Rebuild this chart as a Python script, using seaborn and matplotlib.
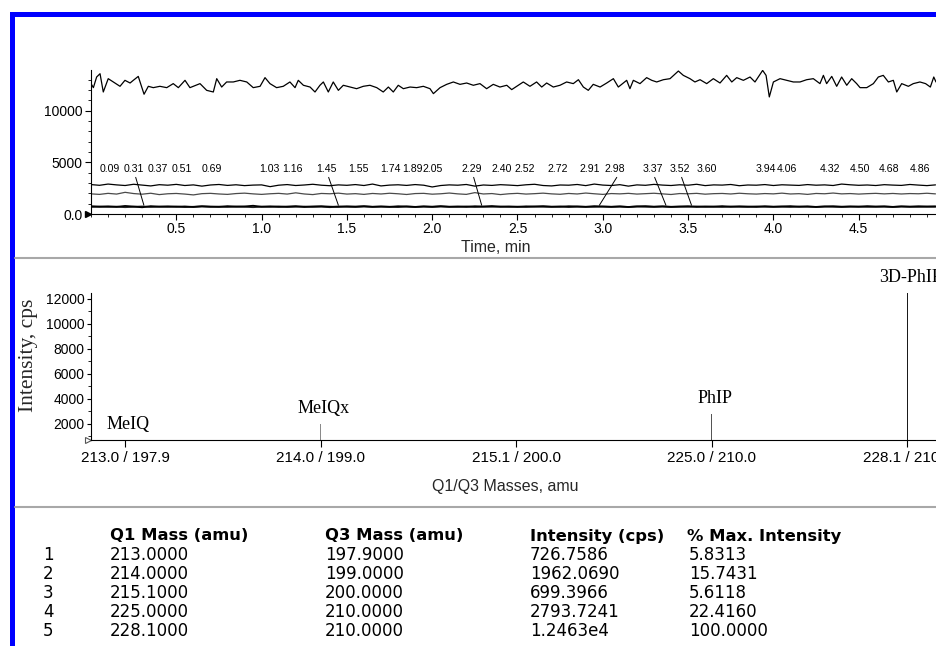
import math
import matplotlib
matplotlib.use("Agg")
import matplotlib.pyplot as plt
import seaborn as sns
import pandas as pd
from matplotlib.patches import Rectangle
from matplotlib.lines import Line2D
from matplotlib.ticker import MultipleLocator, FixedLocator, FuncFormatter

# ------------------------------------------------------------------ data
# XIC of 3D-PhIP (228.1/210.0)
time_top = [0.000, 0.014, 0.033, 0.053, 0.072, 0.101, 0.131, 0.170, 0.199, 0.229,
            0.248, 0.277, 0.311, 0.336, 0.365, 0.404, 0.444, 0.482, 0.512, 0.551,
            0.580, 0.639, 0.678, 0.717, 0.737, 0.766, 0.795, 0.834, 0.873, 0.913,
            0.951, 0.991, 1.020, 1.049, 1.088, 1.127, 1.166, 1.196, 1.215, 1.245,
            1.284, 1.313, 1.342, 1.362, 1.391, 1.420, 1.450, 1.479, 1.518, 1.557,
            1.596, 1.635, 1.675, 1.713, 1.743, 1.772, 1.801, 1.831, 1.870, 1.909,
            1.948, 1.987, 2.007, 2.046, 2.085, 2.124, 2.163, 2.202, 2.241, 2.280,
            2.319, 2.358, 2.397, 2.437, 2.466, 2.505, 2.534, 2.573, 2.612, 2.642,
            2.671, 2.710, 2.749, 2.788, 2.827, 2.857, 2.886, 2.915, 2.944, 2.984,
            3.023, 3.062, 3.091, 3.120, 3.140, 3.159, 3.179, 3.218, 3.257, 3.287,
            3.316, 3.355, 3.394, 3.443, 3.472, 3.511, 3.540, 3.570, 3.609, 3.648,
            3.687, 3.726, 3.756, 3.785, 3.824, 3.863, 3.892, 3.937, 3.957, 3.976,
            4.000, 4.039, 4.078, 4.117, 4.156, 4.195, 4.234, 4.273, 4.293, 4.312,
            4.342, 4.371, 4.400, 4.430, 4.459, 4.488, 4.508, 4.547, 4.586, 4.615,
            4.644, 4.674, 4.703, 4.723, 4.752, 4.791, 4.820, 4.859, 4.892, 4.920,
            4.940, 4.953]
xic_3dphip = [12630, 12240, 13270, 13590, 11820, 13110, 12790, 12370, 12950, 12690,
              12950, 13330, 11600, 12370, 12240, 12370, 12240, 12630, 12240, 12950,
              12240, 12630, 11980, 11820, 13110, 12300, 12790, 12790, 12950, 12790,
              12240, 12370, 13210, 12630, 12240, 12370, 12790, 12240, 12950, 12470,
              12300, 11820, 12470, 12790, 11820, 12790, 11980, 12470, 12300, 12140,
              12370, 12470, 12240, 11820, 12300, 11820, 12470, 12140, 12300, 12240,
              12370, 12140, 11660, 12240, 12560, 12790, 12560, 12690, 12470, 12630,
              12140, 12560, 12300, 12470, 12050, 12470, 12790, 12370, 12790, 12300,
              12690, 12300, 12470, 12790, 12630, 13010, 12300, 11980, 12560, 12300,
              12690, 13110, 12300, 12690, 12950, 12140, 12950, 12630, 13210, 12950,
              12790, 13010, 13110, 13850, 13430, 13110, 12790, 13010, 12630, 13110,
              12690, 13430, 12790, 13210, 12950, 13270, 12790, 13910, 13430, 11340,
              12790, 13110, 12950, 12790, 12790, 13010, 13110, 12630, 13430, 12630,
              13330, 12370, 13270, 12470, 13110, 12630, 12240, 12240, 12630, 13270,
              13430, 12790, 12950, 11820, 12630, 12370, 12630, 12790, 12630, 12300,
              13270, 12790]

# the four lower XICs, sampled every 0.05 min
time_low = [0.00, 0.05, 0.10, 0.15, 0.20, 0.25, 0.30, 0.35, 0.40, 0.45,
            0.50, 0.55, 0.60, 0.65, 0.70, 0.75, 0.80, 0.85, 0.90, 0.95,
            1.00, 1.05, 1.10, 1.15, 1.20, 1.25, 1.30, 1.35, 1.40, 1.45,
            1.50, 1.55, 1.60, 1.65, 1.70, 1.75, 1.80, 1.85, 1.90, 1.95,
            2.00, 2.05, 2.10, 2.15, 2.20, 2.25, 2.30, 2.35, 2.40, 2.45,
            2.50, 2.55, 2.60, 2.65, 2.70, 2.75, 2.80, 2.85, 2.90, 2.95,
            3.00, 3.05, 3.10, 3.15, 3.20, 3.25, 3.30, 3.35, 3.40, 3.45,
            3.50, 3.55, 3.60, 3.65, 3.70, 3.75, 3.80, 3.85, 3.90, 3.95,
            4.00, 4.05, 4.10, 4.15, 4.20, 4.25, 4.30, 4.35, 4.40, 4.45,
            4.50, 4.55, 4.60, 4.65, 4.70, 4.75, 4.80, 4.85, 4.90, 4.95]
xic_phip = [2850, 2780, 2900, 2820, 2760, 2880, 2800, 2720, 2840, 2790,
            2870, 2760, 2820, 2700, 2810, 2860, 2770, 2830, 2750, 2800,
            2820, 2650, 2790, 2850, 2760, 2810, 2880, 2790, 2740, 2820,
            2780, 2850, 2760, 2900, 2720, 2800, 2830, 2770, 2850, 2790,
            2620, 2760, 2820, 2790, 2860, 2700, 2810, 2770, 2840, 2800,
            2750, 2830, 2880, 2760, 2720, 2810, 2790, 2860, 2750, 2900,
            2800, 2760, 2840, 2700, 2820, 2780, 2870, 2800, 2760, 2830,
            2790, 2880, 2750, 2820, 2800, 2860, 2740, 2810, 2790, 2850,
            2760, 2830, 2800, 2770, 2850, 2790, 2820, 2760, 2900, 2830,
            2780, 2810, 2760, 2840, 2800, 2770, 2860, 2800, 2750, 2820]
xic_meiqx = [1950, 1900, 2000, 1930, 2100, 1980, 1920, 2010, 1880, 1960,
             1990, 1930, 1850, 1970, 2000, 1940, 1900, 1980, 2020, 1950,
             1900, 1960, 2000, 1930, 2050, 1940, 1880, 1990, 1960, 2020,
             1930, 1970, 1900, 1990, 1940, 2010, 1960, 1890, 1980, 2000,
             1920, 1960, 2030, 1950, 1900, 2070, 1940, 1980, 1880, 1960,
             2000, 1930, 1970, 2020, 1950, 1910, 1990, 1940, 2030, 1960,
             1900, 1980, 1950, 2000, 1930, 1970, 2010, 1950, 1890, 1980,
             1960, 2000, 1920, 1970, 1990, 1940, 2010, 1960, 1930, 1980,
             1950, 2020, 1940, 1970, 1900, 1990, 1960, 2030, 1950, 1980,
             1930, 1970, 2000, 1950, 1990, 1940, 1980, 1960, 2010, 1950]
xic_meiq = [760, 700, 740, 690, 780, 720, 650, 760, 710, 740,
            700, 730, 680, 750, 720, 690, 760, 710, 730, 800,
            700, 740, 690, 720, 760, 680, 730, 750, 710, 690,
            740, 720, 760, 700, 730, 690, 750, 720, 680, 740,
            710, 760, 700, 730, 690, 750, 720, 770, 700, 730,
            690, 740, 720, 760, 710, 700, 750, 730, 690, 760,
            720, 700, 740, 680, 730, 760, 710, 740, 700, 720,
            750, 690, 730, 710, 760, 700, 740, 720, 690, 750,
            710, 730, 760, 700, 740, 680, 720, 750, 710, 730,
            700, 760, 720, 740, 690, 730, 710, 750, 720, 740]
xic_2151 = [680, 720, 690, 710, 660, 700, 730, 680, 710, 690,
            720, 670, 700, 730, 690, 710, 680, 720, 700, 660,
            710, 690, 730, 680, 700, 720, 690, 710, 660, 730,
            700, 680, 720, 690, 710, 700, 670, 730, 690, 710,
            680, 720, 700, 690, 730, 680, 710, 700, 720, 690,
            710, 680, 720, 700, 690, 730, 670, 710, 700, 690,
            720, 690, 710, 680, 730, 700, 690, 720, 680, 710,
            700, 730, 690, 710, 680, 720, 700, 690, 730, 700,
            690, 710, 680, 720, 700, 690, 730, 700, 680, 710,
            720, 690, 700, 710, 680, 730, 700, 690, 710, 700]

peak_times = [0.09, 0.31, 0.37, 0.51, 0.69, 1.03, 1.16, 1.45, 1.55, 1.74, 1.89, 2.05,
              2.29, 2.40, 2.52, 2.72, 2.91, 2.98, 3.37, 3.52, 3.60, 3.94, 4.06, 4.32,
              4.50, 4.68, 4.86]

# spectrum / table
q1_mass = [213.0, 214.0, 215.1, 225.0, 228.1]
q3_mass = [197.9, 199.0, 200.0, 210.0, 210.0]
intensity_cps = [726.7586, 1962.0690, 699.3966, 2793.7241, 12463.0]
pct_max = [5.8313, 15.7431, 5.6118, 22.4160, 100.0000]
compounds = ["MeIQ", "MeIQx", "", "PhIP", "3D-PhIP"]
pair_labels = [f"{a:.1f} / {b:.1f}" for a, b in zip(q1_mass, q3_mass)]

# ------------------------------------------------------------------ layout helpers
label_pos = [0.111, 0.252, 0.393, 0.533, 0.709, 1.043, 1.178, 1.383, 1.565, 1.753,
             1.882, 2.005, 2.233, 2.409, 2.544, 2.737, 2.925, 3.072, 3.294, 3.452,
             3.611, 3.957, 4.080, 4.332, 4.508, 4.677, 4.859]
leader = [0.31, 1.45, 2.29, 2.98, 3.37, 3.52]

W, H = 937, 646
def fx(px):
    return px / W
def fy(py):
    return 1 - py / H

sns.set_theme(style="white")
plt.rcParams["font.family"] = ["Liberation Sans", "DejaVu Sans"]
plt.rcParams["axes.edgecolor"] = "black"
plt.rcParams["axes.linewidth"] = 0.8
plt.rcParams["xtick.color"] = "black"
plt.rcParams["ytick.color"] = "black"
plt.rcParams["text.color"] = "black"

fig = plt.figure(figsize=(W / 100, H / 100), dpi=100)
fig.patch.set_facecolor("white")

# ------------------------------------------------------------------ top: XICs
ax1 = fig.add_axes([fx(91), fy(214), fx(937 - 91), 144 / H])
df_low = pd.DataFrame({"t": time_low, "phip": xic_phip, "meiqx": xic_meiqx,
                       "meiq": xic_meiq, "x2151": xic_2151})
sns.lineplot(x=time_top, y=xic_3dphip, ax=ax1, color="black", linewidth=0.9)
sns.lineplot(data=df_low, x="t", y="phip", ax=ax1, color="black", linewidth=0.9)
sns.lineplot(data=df_low, x="t", y="meiqx", ax=ax1, color="#4a4a4a", linewidth=0.9)
sns.lineplot(data=df_low, x="t", y="x2151", ax=ax1, color="#222222", linewidth=1.3)
sns.lineplot(data=df_low, x="t", y="meiq", ax=ax1, color="black", linewidth=1.3)
ax1.set_xlim(0, (937 - 91) / 170.6)
ax1.set_ylim(0, 13950)
ax1.set_xlabel("")
ax1.set_ylabel("")
for s in ("top", "right"):
    ax1.spines[s].set_visible(False)
ax1.xaxis.set_major_locator(FixedLocator([0.5, 1.0, 1.5, 2.0, 2.5, 3.0, 3.5, 4.0, 4.5]))
ax1.xaxis.set_minor_locator(MultipleLocator(0.1))
ax1.yaxis.set_major_locator(FixedLocator([0, 5000, 10000]))
ax1.yaxis.set_minor_locator(MultipleLocator(1000))
ax1.yaxis.set_major_formatter(FuncFormatter(lambda v, p: "0.0" if v == 0 else f"{int(v)}"))
ax1.tick_params(axis="both", which="major", direction="out", length=4, width=0.8,
                labelsize=10, pad=2, bottom=True, left=True)
ax1.tick_params(axis="both", which="minor", direction="out", length=2.5, width=0.6,
                bottom=True, left=True)
ax1.plot([-0.003], [0], marker=">", ms=5, color="black",
         transform=ax1.get_yaxis_transform(), clip_on=False)

for t, lx in zip(peak_times, label_pos):
    ax1.text(lx, 4100, f"{t:.2f}", ha="center", va="baseline", fontsize=7.6)
    if t in leader:
        ax1.plot([lx + 0.01, t], [3550, 850], color="black", linewidth=0.7)

ax1.set_xlabel("Time, min", fontsize=11.5, va="center")
ax1.xaxis.set_label_coords(fx(496), fy(248), transform=fig.transFigure)

# ------------------------------------------------------------------ middle: spectrum
ax2 = fig.add_axes([fx(91), fy(440), fx(937 - 91), 147 / H])
df_sp = pd.DataFrame({"pair": pair_labels, "intensity": intensity_cps})
bar_colors = ["#666666", "#8a8a8a", "#666666", "#555555", "#1a1a1a"]
sns.barplot(data=df_sp, x="pair", y="intensity", hue="pair", palette=bar_colors,
            order=pair_labels, legend=False, width=0.0055, ax=ax2, edgecolor="none")
ax2.set_xlim(-0.174, 4.153)
ax2.set_ylim(min(intensity_cps), max(intensity_cps))
for s in ("top", "right"):
    ax2.spines[s].set_visible(False)
ax2.yaxis.set_major_locator(FixedLocator([2000, 4000, 6000, 8000, 10000, 12000]))
ax2.yaxis.set_minor_locator(MultipleLocator(1000))
ax2.tick_params(axis="x", which="major", direction="out", length=5, width=0.8,
                labelsize=11, pad=3, bottom=True)
ax2.tick_params(axis="y", which="major", direction="out", length=3, width=0.8,
                labelsize=10, pad=1.5, left=True)
ax2.tick_params(axis="y", which="minor", direction="out", length=2, width=0.6, left=True)
ax2.plot([-0.003], [min(intensity_cps)], marker=">", ms=5, mfc="white", mec="#555555",
         mew=0.8, transform=ax2.get_yaxis_transform(), clip_on=False)
for i, (name, v) in enumerate(zip(compounds, intensity_cps)):
    if name:
        ax2.annotate(name, (i, v), xytext=(2.5, 8), textcoords="offset points",
                     ha="center", va="baseline", fontsize=13,
                     family=["Liberation Serif", "DejaVu Serif"], annotation_clip=False)
ax2.set_xlabel("Q1/Q3 Masses, amu", fontsize=11.5, va="center")
ax2.xaxis.set_label_coords(fx(505), fy(486), transform=fig.transFigure)
ax2.set_ylabel("Intensity, cps", fontsize=15.5, va="center",
               family=["Liberation Serif", "DejaVu Serif"])
ax2.yaxis.set_label_coords(fx(29), fy(355), transform=fig.transFigure)

# ------------------------------------------------------------------ table
tab_font = ["DejaVu Sans"]
col_x = [43, 110, 325, 530, 689]
hdr_y = 536
row_dy = 19
headers = ["Q1 Mass (amu)", "Q3 Mass (amu)", "Intensity (cps)", "% Max. Intensity"]

def fmt_int(v):
    if v >= 1e4:
        e = int(math.floor(math.log10(v)))
        return f"{v / 10 ** e:.4f}e{e}"
    return f"{v:.4f}"

for h, x in zip(headers, [110, 325, 530, 687]):
    fig.text(fx(x), fy(hdr_y), h, ha="left", va="center", fontsize=11.8,
             fontweight="bold", family=tab_font)
for r in range(len(q1_mass)):
    y = fy(hdr_y + row_dy * (r + 1))
    cells = [str(r + 1), f"{q1_mass[r]:.4f}", f"{q3_mass[r]:.4f}",
             fmt_int(intensity_cps[r]), f"{pct_max[r]:.4f}"]
    for c, x in zip(cells, col_x):
        fig.text(fx(x), y, c, ha="left", va="center", fontsize=12, family=tab_font)

# ------------------------------------------------------------------ frame decorations
fig.add_artist(Rectangle((fx(10), fy(17)), fx(937 - 10), 5 / H, transform=fig.transFigure,
                         facecolor="#0000ff", edgecolor="none"))
fig.add_artist(Rectangle((fx(10), 0), fx(5), (H - 12) / H, transform=fig.transFigure,
                         facecolor="#0000ff", edgecolor="none"))
for yy in (258, 507):
    fig.add_artist(Line2D([fx(15), 1], [fy(yy), fy(yy)], transform=fig.transFigure,
                          color="#a8a8a8", linewidth=1.5))

fig.savefig("out.png", dpi=100, facecolor="white")
